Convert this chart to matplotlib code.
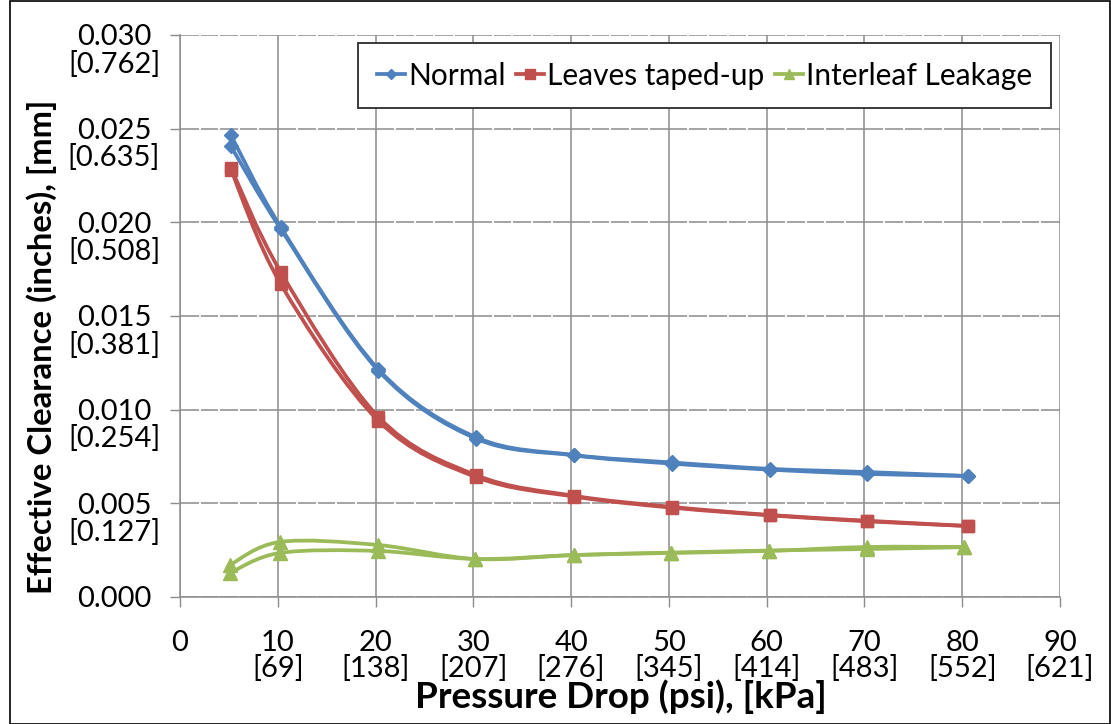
import matplotlib
matplotlib.use("Agg")
import matplotlib.pyplot as plt
from matplotlib.path import Path
from matplotlib.patches import PathPatch, Rectangle
from matplotlib.lines import Line2D
from matplotlib.ticker import MultipleLocator, FixedLocator
from matplotlib.transforms import ScaledTranslation
import numpy as np

plt.rcParams['font.family'] = ['Lato', 'DejaVu Sans']

# ---------------- data ----------------
psi = [5.2, 10.3, 20.3, 30.3, 40.3, 50.3, 60.3, 70.3, 80.6]
normal_run1 = [0.02466, 0.01975, 0.01215, 0.00852, 0.00758, 0.00718, 0.00684, 0.00667, 0.00646]
normal_run2 = [0.02407, 0.01965, 0.01208, 0.00845, 0.00756, 0.00712, 0.00680, 0.00657, 0.00646]
taped_run1 = [0.02292, 0.01735, 0.00961, 0.00650, 0.00540, 0.00481, 0.00438, 0.00407, 0.00379]
taped_run2 = [0.02282, 0.01671, 0.00940, 0.00640, 0.00536, 0.00477, 0.00436, 0.00404, 0.00379]
psi_green = [5.1, 10.2, 20.2, 30.2, 40.3, 50.2, 60.2, 70.3, 80.2]
leak_run1 = [0.00171, 0.00294, 0.00278, 0.00203, 0.00224, 0.00235, 0.00246, 0.00267, 0.00267]
leak_run2 = [0.00128, 0.00235, 0.00246, 0.00203, 0.00224, 0.00237, 0.00248, 0.00256, 0.00266]

series_names = ["Normal", "Leaves taped-up", "Interleaf Leakage"]

x_ticks = [0, 10, 20, 30, 40, 50, 60, 70, 80, 90]
x_tick_labels = ["0", "10\n[69]", "20\n[138]", "30\n[207]", "40\n[276]", "50\n[345]",
                 "60\n[414]", "70\n[483]", "80\n[552]", "90\n[621]"]
y_ticks = [0.000, 0.005, 0.010, 0.015, 0.020, 0.025, 0.030]
y_tick_labels = ["0.000", "0.005\n[0.127]", "0.010\n[0.254]", "0.015\n[0.381]",
                 "0.020\n[0.508]", "0.025\n[0.635]", "0.030\n[0.762]"]

# ---------------- style ----------------
C_BLUE = "#4F81BD"
C_RED = "#C0504D"
C_GREEN = "#9BBB59"
GRID = "#8C8C8C"
FS_TICK = 21
FS_LEG = 21.5

W, H = 1111, 724
fig = plt.figure(figsize=(W / 100, H / 100), dpi=100)
ax = fig.add_axes([180 / W, 1 - 597 / H, 880 / W, 562 / H])


def smooth_path(xs, ys):
    """Excel-like smoothed line: cubic Bezier segments (Catmull-Rom, tension 1/6)."""
    p = np.column_stack([xs, ys]).astype(float)
    n = len(p)
    verts = [p[0]]
    codes = [Path.MOVETO]
    for i in range(n - 1):
        p0 = p[i - 1] if i > 0 else p[i]
        p1 = p[i]
        p2 = p[i + 1]
        p3 = p[i + 2] if i + 2 < n else p[i + 1]
        c1 = p1 + (p2 - p0) / 6.0
        c2 = p2 - (p3 - p1) / 6.0
        verts += [c1, c2, p2]
        codes += [Path.CURVE4] * 3
    return Path(verts, codes)


LW = 2.7


def draw_series(xs, ys, color, marker, ms):
    patch = PathPatch(smooth_path(xs, ys), facecolor="none", edgecolor=color,
                      lw=LW, zorder=3, capstyle="round", joinstyle="round")
    ax.add_patch(patch)
    ax.plot(xs, ys, linestyle="none", marker=marker, ms=ms, color=color,
            mec=color, zorder=4)


draw_series(psi_green, leak_run1, C_GREEN, "^", 9.5)
draw_series(psi_green, leak_run2, C_GREEN, "^", 9.5)
draw_series(psi, taped_run1, C_RED, "s", 8.5)
draw_series(psi, taped_run2, C_RED, "s", 8.5)
draw_series(psi, normal_run1, C_BLUE, "D", 7.5)
draw_series(psi, normal_run2, C_BLUE, "D", 7.5)

ax.set_xlim(0, 90)
ax.set_ylim(0, 0.030)
ax.xaxis.set_major_locator(FixedLocator(x_ticks))
ax.set_xticklabels(x_tick_labels, linespacing=0.92)
ax.yaxis.set_major_locator(FixedLocator(y_ticks))
ax.set_yticklabels(y_tick_labels, multialignment="center", linespacing=1.02)
ax.xaxis.set_minor_locator(MultipleLocator(2))

ax.tick_params(axis="both", which="major", direction="out", length=7, width=1,
               color=GRID, labelsize=FS_TICK)
ax.tick_params(axis="y", which="major", pad=40.5)
ax.tick_params(axis="x", which="major", pad=17)
ax.tick_params(axis="x", which="minor", length=0)

# first line of each y tick label centred on its tick, second line hanging below
shift_up = ScaledTranslation(0, 0.108, fig.dpi_scale_trans)
for t in ax.get_yticklabels():
    t.set_horizontalalignment("center")
    t.set_verticalalignment("top")
    t.set_transform(t.get_transform() + shift_up)

ax.set_axisbelow(True)
ax.yaxis.set_zorder(0.3)
ax.xaxis.set_zorder(0.5)
ax.grid(True, which="major", axis="both", color=GRID, lw=1.1)
ax.grid(True, which="minor", axis="x", color="white", lw=1.3)

for s in ["top", "right"]:
    ax.spines[s].set_visible(False)
for s in ["left", "bottom"]:
    ax.spines[s].set_color(GRID)
    ax.spines[s].set_linewidth(1.1)

ax.set_ylabel("Effective Clearance (inches), [mm]", fontsize=23.7, fontweight="bold")
ax.yaxis.set_label_coords((57 - 180) / 880, (597 - 347) / 562)
ax.set_xlabel("Pressure Drop (psi), [kPa]", fontsize=26.5, fontweight="bold")
ax.xaxis.set_label_coords(0.501, (597 - 679) / 562)

handles = [
    Line2D([], [], color=C_BLUE, lw=LW, marker="D", ms=5.5),
    Line2D([], [], color=C_RED, lw=LW, marker="s", ms=7.5),
    Line2D([], [], color=C_GREEN, lw=LW, marker="^", ms=7.5),
]
leg = ax.legend(handles, series_names, loc="upper left", ncol=3,
                bbox_to_anchor=((358 - 180) / 880, (597 - 43) / 562),
                borderaxespad=0, fontsize=FS_LEG, handlelength=0.95,
                handletextpad=0.1, columnspacing=0.35, borderpad=0.62,
                fancybox=False, framealpha=1, edgecolor="#3A3A3A")
leg.get_frame().set_linewidth(1.4)

# outer chart border
fig.patches.append(Rectangle((10 / W, 0.5 / H), 1099.5 / W, 723 / H,
                             transform=fig.transFigure, fill=False,
                             edgecolor="black", lw=1.2))

fig.savefig("out.png", dpi=100)
